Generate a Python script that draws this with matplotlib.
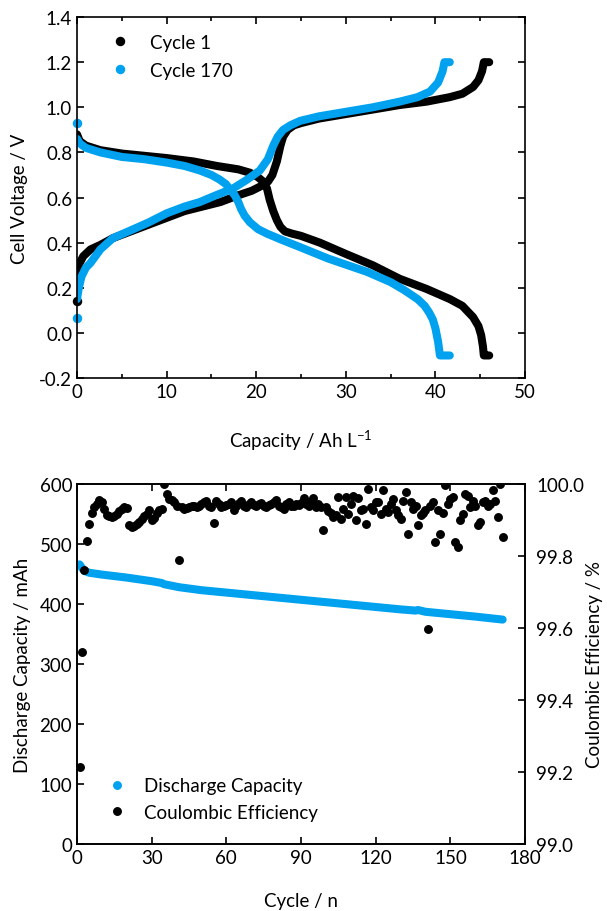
import matplotlib
matplotlib.use("Agg")
import matplotlib.pyplot as plt
from matplotlib.lines import Line2D
from matplotlib.ticker import MultipleLocator, FormatStrFormatter

plt.rcParams["font.family"] = ["Lato", "DejaVu Sans"]
plt.rcParams["mathtext.fontset"] = "custom"
plt.rcParams["mathtext.rm"] = "Lato"
plt.rcParams["mathtext.it"] = "Lato"

BLUE = "#00A2F0"
BLACK = "#000000"

# --- voltage curves (capacity in Ah/L, voltage in V) ---
c1_charge_cap = [0, 0, 0.3, 0.7, 1.5, 2.6, 4, 6, 8, 10, 12, 14, 16, 18, 19.5, 20.5, 21.3, 21.8,
                 22.3, 22.7, 23.0, 23.5, 24.2, 25, 27, 30, 33, 36, 39, 41.6, 43, 44.2, 44.8,
                 45.2, 45.4, 46.0]
c1_charge_v = [0.14, 0.27, 0.31, 0.34, 0.37, 0.39, 0.42, 0.45, 0.48, 0.51, 0.54, 0.56, 0.58,
               0.61, 0.63, 0.65, 0.67, 0.70, 0.76, 0.83, 0.87, 0.90, 0.92, 0.93, 0.95, 0.97,
               0.99, 1.01, 1.025, 1.045, 1.06, 1.09, 1.12, 1.16, 1.2, 1.2]
c1_dis_cap = [0, 0.3, 1, 2.6, 5, 7.5, 10, 13, 15.6, 18, 19.3, 20.2, 20.8, 21.2, 21.5, 21.9,
              22.3, 22.7, 23.2, 24, 25, 27.1, 30, 33, 36, 39, 41.6, 43, 44.2, 44.8, 45.1,
              45.3, 45.4, 46.0]
c1_dis_v = [0.88, 0.85, 0.83, 0.81, 0.795, 0.785, 0.775, 0.76, 0.74, 0.725, 0.71, 0.69, 0.67,
            0.64, 0.59, 0.54, 0.50, 0.47, 0.45, 0.44, 0.43, 0.40, 0.35, 0.30, 0.24, 0.195,
            0.15, 0.12, 0.07, 0.03, -0.01, -0.06, -0.1, -0.1]

c170_charge_cap = [0, 0, 0.2, 0.5, 1.0, 1.5, 2.6, 4, 6.3, 8, 10, 12, 13.7, 15.5, 17.4, 19,
                   20.4, 21.3, 21.9, 22.4, 23.0, 23.8, 24.9, 27, 30, 33, 36, 38, 39.4, 40.3,
                   40.8, 41.0, 41.6]
c170_charge_v = [0.067, 0.15, 0.20, 0.25, 0.29, 0.31, 0.37, 0.42, 0.46, 0.49, 0.53, 0.56, 0.58,
                 0.61, 0.64, 0.68, 0.72, 0.77, 0.83, 0.87, 0.90, 0.92, 0.94, 0.96, 0.98, 1.00,
                 1.025, 1.045, 1.07, 1.11, 1.16, 1.2, 1.2]
c170_dis_cap = [0, 0, 0.3, 1, 2.6, 5, 7.5, 10, 12, 13.7, 15, 15.9, 16.6, 17.1, 17.6, 18.0,
                18.3, 18.7, 19.3, 20.2, 21.2, 23, 24.9, 28, 32.4, 35, 36.5, 38, 38.8, 39.3,
                39.7, 40.0, 40.3, 40.5, 41.6]
c170_dis_v = [0.93, 0.86, 0.84, 0.82, 0.80, 0.78, 0.77, 0.755, 0.74, 0.72, 0.70, 0.68, 0.66,
              0.635, 0.61, 0.58, 0.55, 0.52, 0.49, 0.46, 0.44, 0.41, 0.38, 0.33, 0.27, 0.225,
              0.19, 0.15, 0.12, 0.09, 0.06, 0.02, -0.04, -0.1, -0.1]

# --- cycling data ---
cap_cycles = [1, 2, 3, 5, 10, 20, 30, 34, 35, 41, 50, 60, 70, 80, 90, 100, 110, 120, 130,
              136, 137, 139, 140, 145, 150, 160, 171]
discharge_mah = [466, 460, 455, 452, 449, 444, 438, 435, 433, 428, 423, 419, 415, 411, 407,
                 403, 399, 395, 391, 389, 390, 388, 387, 385, 383, 379, 374]

ce_cycles = list(range(1, 172))
ce_pct = [
    99.213, 99.533, 99.762, 99.842, 99.888, 99.919, 99.936, 99.945, 99.956, 99.950,
    99.930, 99.914, 99.910, 99.908, 99.912, 99.917, 99.925, 99.930, 99.936, 99.932,
    99.886, 99.880, 99.882, 99.890, 99.895, 99.903, 99.910, 99.917, 99.927, 99.900,
    99.905, 99.920, 99.927, 99.930, 100.000, 99.972, 99.959, 99.955, 99.950, 99.940,
    99.788, 99.936, 99.930, 99.932, 99.936, 99.940, 99.938, 99.935, 99.940, 99.945,
    99.950, 99.954, 99.940, 99.935, 99.892, 99.954, 99.945, 99.936, 99.940, 99.942,
    99.945, 99.950, 99.928, 99.940, 99.948, 99.952, 99.940, 99.935, 99.945, 99.950,
    99.942, 99.938, 99.945, 99.948, 99.940, 99.935, 99.942, 99.945, 99.950, 99.955,
    99.940, 99.935, 99.930, 99.945, 99.950, 99.940, 99.938, 99.945, 99.942, 99.948,
    99.962, 99.945, 99.940, 99.950, 99.960, 99.936, 99.945, 99.935, 99.872, 99.936,
    99.925, 99.920, 99.908, 99.915, 99.964, 99.903, 99.930, 99.964, 99.917, 99.945,
    99.968, 99.899, 99.960, 99.928, 99.930, 99.890, 99.987, 99.936, 99.927, 99.950,
    99.950, 99.917, 99.982, 99.930, 99.922, 99.945, 99.959, 99.927, 99.915, 99.903,
    99.954, 99.978, 99.862, 99.950, 99.931, 99.940, 99.885, 99.913, 99.920, 99.927,
    99.597, 99.940, 99.950, 99.839, 99.927, 99.862, 99.920, 99.996, 99.945, 99.959,
    99.965, 99.839, 99.825, 99.900, 99.917, 99.973, 99.968, 99.936, 99.954, 99.940,
    99.885, 99.894, 99.950, 99.954, 99.940, 99.945, 99.982, 99.954, 99.908, 100.000,
    99.853,
]

LW = 5.8
FS = 13.5


def style_axis(ax):
    for s in ax.spines.values():
        s.set_linewidth(1.2)
    ax.tick_params(which="major", direction="in", length=5, width=1.2, labelsize=FS)
    ax.tick_params(which="minor", direction="in", length=3, width=1.2)


fig = plt.figure(figsize=(6.07, 9.12), dpi=100)

# ---------------- top: voltage profiles ----------------
ax = fig.add_axes([0.1269, 0.5844, 0.7381, 0.3958])
for cap, v, col in [(c1_charge_cap, c1_charge_v, BLACK), (c1_dis_cap, c1_dis_v, BLACK),
                    (c170_charge_cap, c170_charge_v, BLUE), (c170_dis_cap, c170_dis_v, BLUE)]:
    if cap is c1_dis_cap:
        ax.plot(cap, v, color=col, lw=LW, solid_capstyle="round", solid_joinstyle="round")
    else:
        # first recorded point sits apart from the rest of the curve
        ax.plot(cap[1:], v[1:], color=col, lw=LW, solid_capstyle="round", solid_joinstyle="round")
        ax.plot(cap[:1], v[:1], "o", color=col, ms=LW, clip_on=False)

ax.set_xlim(0, 50)
ax.set_ylim(-0.2, 1.4)
ax.xaxis.set_major_locator(MultipleLocator(10))
ax.xaxis.set_minor_locator(MultipleLocator(5))
ax.yaxis.set_major_locator(MultipleLocator(0.2))
ax.yaxis.set_major_formatter(FormatStrFormatter("%.1f"))
style_axis(ax)
ax.tick_params(which="both", top=True, right=True)
ax.set_xlabel(r"Capacity / Ah L$^{-1}$", fontsize=FS, labelpad=20)
ax.set_ylabel("Cell Voltage / V", fontsize=FS, labelpad=8)

handles = [Line2D([], [], ls="none", marker="o", color=BLACK, ms=LW),
           Line2D([], [], ls="none", marker="o", color=BLUE, ms=LW)]
ax.legend(handles, ["Cycle 1", "Cycle 170"], loc="upper left", bbox_to_anchor=(0.076, 0.954),
          frameon=False, fontsize=FS, handlelength=1.0, handletextpad=1.1,
          labelspacing=0.6, borderpad=0, borderaxespad=0)

# ---------------- bottom: cycling ----------------
ax1 = fig.add_axes([0.1269, 0.0735, 0.7381, 0.3947])
ax1.plot(cap_cycles, discharge_mah, color=BLUE, lw=LW, solid_capstyle="round",
         solid_joinstyle="round")
ax1.set_xlim(0, 180)
ax1.set_ylim(0, 600)
ax1.xaxis.set_major_locator(MultipleLocator(30))
ax1.yaxis.set_major_locator(MultipleLocator(100))
style_axis(ax1)
ax1.tick_params(which="both", top=True, right=False)
ax1.set_xlabel("Cycle / n", fontsize=FS, labelpad=19)
ax1.set_ylabel("Discharge Capacity / mAh", fontsize=FS, labelpad=6)

ax2 = ax1.twinx()
ax2.plot(ce_cycles, ce_pct, "o", color=BLACK, ms=5.4)
ax2.set_ylim(99.0, 100.0)
ax2.yaxis.set_major_locator(MultipleLocator(0.2))
ax2.yaxis.set_major_formatter(FormatStrFormatter("%.1f"))
style_axis(ax2)
ax2.tick_params(axis="y", pad=8)
ax2.set_ylabel("Coulombic Efficiency / %", fontsize=FS, labelpad=1)

handles = [Line2D([], [], ls="none", marker="o", color=BLUE, ms=5.4),
           Line2D([], [], ls="none", marker="o", color=BLACK, ms=5.4)]
ax2.legend(handles, ["Discharge Capacity", "Coulombic Efficiency"], loc="upper left",
           bbox_to_anchor=(0.069, 0.185), frameon=False, fontsize=FS, handlelength=1.0,
           handletextpad=0.9, labelspacing=0.5, borderpad=0, borderaxespad=0)

fig.savefig("out.png", dpi=100)
